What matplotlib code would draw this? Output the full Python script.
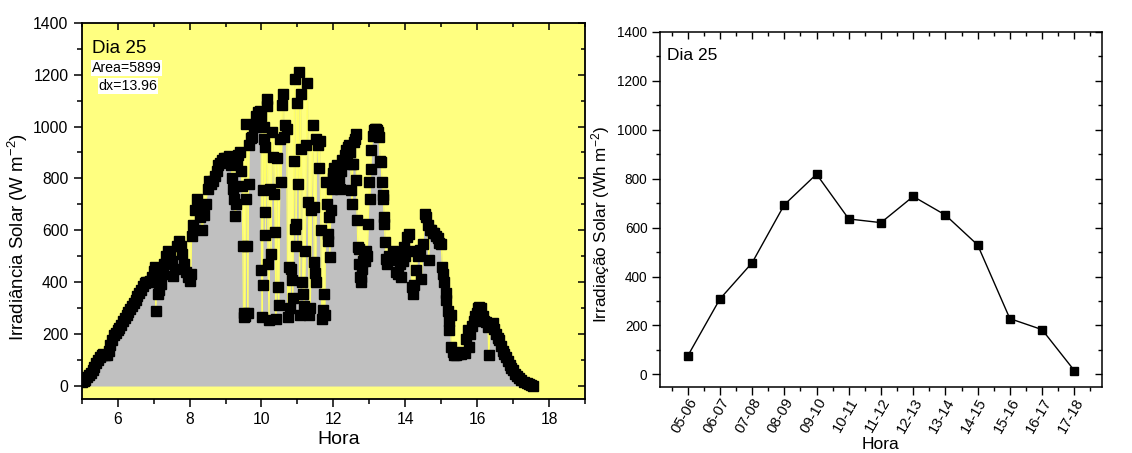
import numpy as np
import matplotlib
matplotlib.use("Agg")
import matplotlib.pyplot as plt
from matplotlib.ticker import MultipleLocator, FixedLocator

plt.rcParams['font.family'] = ['Liberation Sans', 'DejaVu Sans']
plt.rcParams['mathtext.fontset'] = 'custom'
plt.rcParams['mathtext.rm'] = 'Liberation Sans'
plt.rcParams['mathtext.it'] = 'Liberation Sans:italic'

# ---------------- dados: irradiância (dia 25) ----------------
hora = [
    # 05h - 07h
    5.00, 5.05, 5.10, 5.15, 5.20, 5.25, 5.30, 5.35, 5.40, 5.45,
    5.50, 5.55, 5.60, 5.65, 5.70, 5.75, 5.80, 5.85, 5.90, 5.95,
    6.00, 6.05, 6.10, 6.15, 6.20, 6.25, 6.30, 6.35, 6.40, 6.45,
    6.50, 6.55, 6.60, 6.65, 6.70, 6.75, 6.80, 6.85, 6.90, 6.95,
    7.00,
    # 07h - 09h
    7.03, 7.06, 7.08, 7.12, 7.15, 7.20, 7.25, 7.30, 7.35, 7.40,
    7.45, 7.50, 7.55, 7.60, 7.65, 7.70, 7.75, 7.80, 7.85, 7.90,
    7.95, 8.00, 8.03, 8.06, 8.10, 8.15, 8.20, 8.25, 8.30, 8.35,
    8.40, 8.45, 8.50, 8.55, 8.60, 8.65, 8.70, 8.75, 8.80, 8.85,
    8.90, 8.95, 9.00,
    # 09h - 10h
    9.05, 9.10, 9.15, 9.18, 9.21, 9.24, 9.27, 9.30, 9.33, 9.36,
    9.40, 9.43, 9.46, 9.48, 9.50, 9.52, 9.54, 9.56, 9.58, 9.60,
    9.62, 9.64, 9.66, 9.70, 9.75, 9.80, 9.85, 9.90, 9.95, 9.99,
    # 10h - 12h (nuvens)
    10.00, 10.02, 10.03, 10.04, 10.06, 10.08, 10.09, 10.10, 10.11, 10.14,
    10.16, 10.18, 10.21, 10.24, 10.27, 10.30, 10.33, 10.36, 10.38, 10.40,
    10.42, 10.45, 10.48, 10.52, 10.55, 10.58, 10.61, 10.63, 10.66, 10.70,
    10.73, 10.76, 10.79, 10.82, 10.85, 10.87, 10.90, 10.92, 10.94, 10.96,
    10.97, 10.99, 11.01, 11.04, 11.06, 11.09, 11.11, 11.14, 11.16, 11.19,
    11.22, 11.25, 11.28, 11.30, 11.33, 11.36, 11.39, 11.42, 11.45, 11.47,
    11.49, 11.51, 11.53, 11.56, 11.59, 11.62, 11.65, 11.68, 11.71, 11.73,
    11.76, 11.79, 11.82, 11.84, 11.86, 11.88, 11.90, 11.93, 11.96, 11.99,
    # 12h - 13.5h
    12.00, 12.03, 12.06, 12.08, 12.10, 12.13, 12.16, 12.19, 12.22, 12.25,
    12.28, 12.31, 12.34, 12.37, 12.40, 12.43, 12.46, 12.48, 12.50, 12.52,
    12.54, 12.57, 12.60, 12.62, 12.64, 12.66, 12.68, 12.70, 12.72, 12.74,
    12.76, 12.78, 12.80, 12.82, 12.85, 12.88, 12.91, 12.94, 12.97, 13.00,
    13.02, 13.04, 13.06, 13.09, 13.12, 13.15, 13.18, 13.21, 13.24, 13.27,
    13.30, 13.33, 13.35, 13.37, 13.39, 13.41, 13.42, 13.44, 13.46,
    # 13.5h - fim
    13.50, 13.55, 13.60, 13.65, 13.70, 13.75, 13.80, 13.85, 13.89, 13.93,
    13.97, 14.00, 14.05, 14.10, 14.14, 14.18, 14.21, 14.25, 14.30, 14.35,
    14.40, 14.45, 14.49, 14.54, 14.58, 14.62, 14.65, 14.68, 14.72, 14.76,
    14.80, 14.85, 14.90, 14.95, 15.00, 15.03, 15.06, 15.09, 15.12, 15.14,
    15.18, 15.21, 15.23, 15.26, 15.28, 15.32, 15.36, 15.42, 15.48, 15.54,
    15.60, 15.65, 15.70, 15.74, 15.77, 15.80, 15.85, 15.90, 15.95, 15.99,
    16.03, 16.06, 16.10, 16.15, 16.20, 16.25, 16.30, 16.32, 16.36, 16.40,
    16.43, 16.47, 16.52, 16.57, 16.62, 16.67, 16.72, 16.76, 16.80, 16.85,
    16.90, 16.95, 16.99, 17.05, 17.10, 17.15, 17.22, 17.30, 17.38, 17.45,
    17.50, 17.55,
]

irradiancia = [
    # 05h - 07h
    15, 20, 25, 33, 42, 52, 62, 75, 88, 100,
    110, 120, 122, 118, 120, 135, 158, 178, 195, 205,
    215, 225, 237, 250, 262, 272, 285, 297, 310, 320,
    332, 345, 358, 370, 385, 398, 400, 402, 405, 420,
    445,
    # 07h - 09h
    460, 290, 400, 355, 370, 395, 430, 470, 500, 520,
    500, 480, 425, 450, 540, 560, 540, 510, 470, 440,
    420, 405, 430, 580, 620, 680, 720, 690, 650, 600,
    660, 700, 760, 790, 780, 790, 810, 830, 850, 860,
    870, 880, 880,
    # 09h - 10h
    870, 885, 850, 800, 760, 720, 655, 700, 860, 890,
    900, 830, 770, 540, 265, 280, 270, 720, 1010, 540,
    280, 780, 930, 955, 960, 1000, 1040, 1055, 1060, 1040,
    # 10h - 12h (nuvens)
    446, 267, 388, 754, 1000, 953, 670, 920, 581, 1080,
    1106, 472, 254, 760, 510, 978, 882, 741, 593, 260,
    880, 382, 311, 950, 786, 1081, 1126, 959, 1004, 990,
    267, 459, 300, 450, 408, 340, 869, 1183, 606, 626,
    540, 1090, 780, 1209, 273, 1126, 914, 400, 356, 310,
    520, 930, 1167, 709, 273, 300, 680, 1004, 690, 478,
    437, 400, 953, 930, 840, 946, 600, 260, 292, 356,
    273, 786, 700, 587, 560, 650, 497, 677, 760, 800,
    # 12h - 13.5h
    820, 840, 800, 767, 850, 843, 800, 760, 830, 870,
    860, 890, 908, 880, 920, 927, 900, 857, 754, 703,
    857, 940, 950, 972, 792, 638, 536, 529, 470, 420,
    401, 420, 450, 480, 500, 480, 520, 500, 626, 786,
    719, 838, 908, 965, 985, 992, 990, 985, 980, 960,
    869, 863, 786, 735, 719, 651, 626, 555, 490,
    # 13.5h - fim
    470, 500, 485, 520, 500, 440, 430, 470, 420, 480,
    536, 500, 574, 587, 520, 380, 356, 390, 446, 500,
    523, 414, 549, 664, 650, 620, 485, 600, 600, 590,
    590, 580, 570, 550, 549, 459, 430, 401, 360, 331,
    290, 250, 215, 273, 151, 130, 120, 119, 125, 125,
    130, 126, 180, 215, 151, 200, 230, 250, 270, 280,
    300, 305, 300, 270, 250, 245, 228, 119, 230, 240,
    241, 220, 200, 185, 177, 155, 135, 125, 113, 95,
    80, 70, 62, 48, 38, 30, 23, 15, 10, 6,
    4, 2,
]

# ---------------- dados: irradiação horária ----------------
intervalos = ['05-06', '06-07', '07-08', '08-09', '09-10', '10-11', '11-12',
              '12-13', '13-14', '14-15', '15-16', '16-17', '17-18']
irradiacao = [75, 308, 456, 693, 818, 635, 620, 727, 651, 529, 228, 183, 16]

AMARELO = '#FFFF80'
CINZA = '#C0C0C0'


def espelhar_ticks(ax, xmaj, xmin, ymaj, ymin, lw):
    """ticks para dentro no topo e na direita (estilo Origin)"""
    top = ax.secondary_xaxis('top')
    top.xaxis.set_major_locator(xmaj)
    top.xaxis.set_minor_locator(xmin)
    top.tick_params(which='both', direction='in', labeltop=False, width=lw)
    top.tick_params(which='major', length=5)
    top.tick_params(which='minor', length=3)
    right = ax.secondary_yaxis('right')
    right.yaxis.set_major_locator(ymaj)
    right.yaxis.set_minor_locator(ymin)
    right.tick_params(which='both', direction='in', labelright=False, width=lw)
    right.tick_params(which='major', length=5)
    right.tick_params(which='minor', length=3)
    for s in ('top', 'bottom', 'left', 'right'):
        top.spines[s].set_visible(False)
        right.spines[s].set_visible(False)


fig = plt.figure(figsize=(11.32, 4.53), dpi=100)

# ---------------- painel esquerdo ----------------
ax1 = fig.add_axes([0.0722, 0.1192, 0.4446, 0.8307])
ax1.set_facecolor(AMARELO)
ax1.fill_between(hora, irradiancia, 0, color=CINZA, lw=0, zorder=1)
ax1.plot(hora, irradiancia, color='#FFFF66', lw=0.8, zorder=2)
ax1.plot(hora, irradiancia, ls='none', marker='s', ms=6.6, mfc='black',
         mec='black', zorder=3)
ax1.set_xlim(5, 19)
ax1.set_ylim(-50, 1400)
ax1.xaxis.set_major_locator(MultipleLocator(2))
ax1.xaxis.set_minor_locator(MultipleLocator(1))
ax1.yaxis.set_major_locator(MultipleLocator(200))
ax1.yaxis.set_minor_locator(MultipleLocator(100))
ax1.tick_params(which='both', direction='out', labelsize=11.3, width=1.1)
ax1.tick_params(which='major', length=6)
ax1.tick_params(which='minor', length=3.5)
for s in ax1.spines.values():
    s.set_linewidth(1.3)
espelhar_ticks(ax1, MultipleLocator(2), MultipleLocator(1),
               MultipleLocator(200), MultipleLocator(100), 1.1)
ax1.set_xlabel('Hora', fontsize=14)
ax1.xaxis.set_label_coords(0.51, -0.085)
ax1.set_ylabel('Irradiância Solar (W m$^{-2}$)', fontsize=13.4)
ax1.yaxis.set_label_coords(-0.103, 0.43)
ax1.text(0.02, 0.955, 'Dia 25', transform=ax1.transAxes, fontsize=13.5,
         va='top', ha='left')
ax1.text(0.02, 0.88, 'Area=5899', transform=ax1.transAxes, fontsize=10.2,
         va='center', ha='left',
         bbox=dict(facecolor='white', edgecolor='none', pad=0.5))
ax1.text(0.034, 0.832, 'dx=13.96', transform=ax1.transAxes, fontsize=10.2,
         va='center', ha='left',
         bbox=dict(facecolor='white', edgecolor='none', pad=0.5))

# ---------------- painel direito ----------------
ax2 = fig.add_axes([0.5830, 0.1464, 0.3905, 0.7837])
pos = np.arange(len(intervalos))
ax2.plot(pos, irradiacao, color='black', lw=1.0, marker='s', ms=5.5,
         mfc='black', mec='black')
ax2.set_xlim(-0.86, 12.86)
ax2.set_ylim(-50, 1400)
ax2.set_xticks(pos)
ax2.set_xticklabels(intervalos, rotation=60, ha='right',
                    rotation_mode='anchor')
ax2.xaxis.set_minor_locator(FixedLocator(np.arange(-0.5, 13, 1.0)))
ax2.yaxis.set_major_locator(MultipleLocator(200))
ax2.yaxis.set_minor_locator(MultipleLocator(100))
ax2.tick_params(which='both', direction='out', labelsize=9.8, width=1.0)
ax2.tick_params(which='major', length=5.5)
ax2.tick_params(which='minor', length=3)
ax2.tick_params(axis='x', pad=1, labelsize=10.6)
for s in ax2.spines.values():
    s.set_linewidth(1.1)
espelhar_ticks(ax2, FixedLocator(pos), FixedLocator(np.arange(-0.5, 13, 1.0)),
               MultipleLocator(200), MultipleLocator(100), 1.0)
ax2.set_xlabel('Hora', fontsize=12.5)
ax2.xaxis.set_label_coords(0.5, -0.142)
ax2.set_ylabel('Irradiação Solar (Wh m$^{-2}$)', fontsize=12.3)
ax2.yaxis.set_label_coords(-0.109, 0.458)
ax2.text(0.015, 0.955, 'Dia 25', transform=ax2.transAxes, fontsize=12.5,
         va='top', ha='left')

fig.savefig('out.png', dpi=100)
